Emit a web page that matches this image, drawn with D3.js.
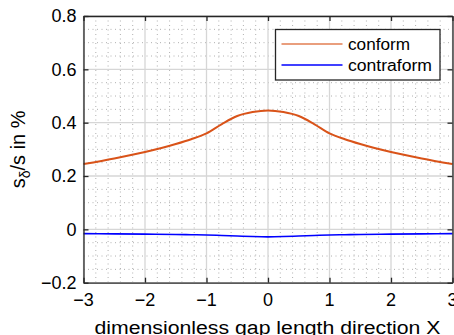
<!DOCTYPE html>
<html><head><meta charset="utf-8">
<script src="https://cdn.jsdelivr.net/npm/d3@7"></script>
<style>html,body{margin:0;padding:0;background:#fff;overflow:hidden}text{font-family:"Liberation Sans",Arial,sans-serif;fill:#000}</style>
</head><body><svg id="c" width="454" height="335"></svg>
<script>
const xValues = [-3,-2.5,-2,-1.5,-1.25,-1,-0.75,-0.5,-0.25,0,0.25,0.5,0.75,1,1.25,1.5,2,2.5,3];
const conform = [0.245,0.266,0.29,0.32,0.338,0.36,0.395,0.425,0.44,0.446,0.44,0.425,0.395,0.36,0.338,0.32,0.29,0.266,0.245];
const contraform = [-0.016,-0.017,-0.018,-0.019,-0.02,-0.021,-0.023,-0.025,-0.027,-0.028,-0.027,-0.025,-0.023,-0.021,-0.02,-0.019,-0.018,-0.017,-0.016];
const xTicks = [-3,-2,-1,0,1,2,3];
const yTicks = [-0.2,0,0.2,0.4,0.6,0.8];
const seriesNames = ["conform","contraform"];
const seriesColors = ["#D95319","#0000FF"];

const svg = d3.select("#c");
const L=83.5,R=452.5,T=16,B=282.7;
const x = d3.scaleLinear().domain([-3,3]).range([L,R]);
const y = d3.scaleLinear().domain([-0.2,0.8]).range([B,T]);
const axisCol="#262626";

// minor grid
const g = svg.append("g");
const xMinor = d3.range(-3,3.0001,0.2).filter(v=>Math.abs(v-Math.round(v))>1e-6);
const yMinor = d3.range(-0.2,0.8001,0.05).filter(v=>Math.abs(v*5-Math.round(v*5))>1e-6);
g.selectAll(".xm").data(xMinor).enter().append("line").attr("x1",d=>x(d)).attr("x2",d=>x(d)).attr("y1",T).attr("y2",B)
 .attr("stroke","#b0b0b0").attr("stroke-width",1).attr("stroke-dasharray","1,3.5");
g.selectAll(".ym").data(yMinor).enter().append("line").attr("y1",d=>y(d)).attr("y2",d=>y(d)).attr("x1",L).attr("x2",R)
 .attr("stroke","#b0b0b0").attr("stroke-width",1).attr("stroke-dasharray","1,3.5");
// major grid
g.selectAll(".xg").data(xTicks).enter().append("line").attr("x1",d=>x(d)).attr("x2",d=>x(d)).attr("y1",T).attr("y2",B)
 .attr("stroke","#d6d6d6").attr("stroke-width",1.3);
g.selectAll(".yg").data(yTicks).enter().append("line").attr("y1",d=>y(d)).attr("y2",d=>y(d)).attr("x1",L).attr("x2",R)
 .attr("stroke","#d6d6d6").attr("stroke-width",1.3);

// lines
const pts = (vals)=>xValues.map((v,i)=>[v,vals[i]]);
const line = d3.line().x(d=>x(d[0])).y(d=>y(d[1])).curve(d3.curveMonotoneX);
[conform,contraform].forEach((s,i)=>{
  svg.append("path").attr("d",line(pts(s))).attr("fill","none").attr("stroke",seriesColors[i]).attr("stroke-width",i==0?2:1.6);
});

// axes (ticks only; labels drawn below)
const ax = svg.append("g");
ax.append("g").attr("transform",`translate(0,${B})`).call(d3.axisBottom(x).tickValues(xTicks).tickSizeInner(-5).tickSizeOuter(0).tickFormat(""));
ax.append("g").attr("transform",`translate(0,${T})`).call(d3.axisTop(x).tickValues(xTicks).tickSizeInner(-5).tickSizeOuter(0).tickFormat(""));
ax.append("g").attr("transform",`translate(${L},0)`).call(d3.axisLeft(y).tickValues(yTicks).tickSizeInner(-5).tickSizeOuter(0).tickFormat(""));
ax.append("g").attr("transform",`translate(${R},0)`).call(d3.axisRight(y).tickValues(yTicks).tickSizeInner(-5).tickSizeOuter(0).tickFormat(""));
ax.selectAll(".domain").attr("stroke",axisCol).attr("stroke-width",1.3);
ax.selectAll(".tick line").attr("stroke",axisCol).attr("stroke-width",1.3);

const fmt = d=>d3.format("")(d).replace("-","\u2212");
const tl = svg.append("g").attr("font-size",18);
tl.selectAll(".xl").data(xTicks).enter().append("text").attr("x",d=>x(d)).attr("y",306).attr("text-anchor","middle").text(fmt);
tl.selectAll(".yl").data(yTicks).enter().append("text").attr("x",L-7).attr("y",d=>y(d)+6.3).attr("text-anchor","end").text(fmt);

// labels
svg.append("text").attr("x",(L+R)/2-0.5).attr("y",333.5).attr("text-anchor","middle").attr("font-size",18)
  .text("dimensionless gap length direction X").attr("textLength",346).attr("lengthAdjust","spacingAndGlyphs");
const yl = svg.append("text").attr("transform",`translate(25,${(T+B)/2}) rotate(-90)`).attr("text-anchor","middle").attr("font-size",20);
yl.append("tspan").text("s");
yl.append("tspan").attr("font-size",14).attr("dy",5).text("\u03B4");
yl.append("tspan").attr("dy",-5).text("/s in %");

// legend
const lg = svg.append("g");
lg.append("rect").attr("x",275.5).attr("y",29.5).attr("width",164.5).attr("height",50.5).attr("fill","#fff").attr("stroke","#262626").attr("stroke-width",1.3);
const legW=[62,84];
seriesNames.forEach((n,i)=>{
  const yy = 44+i*21;
  lg.append("line").attr("x1",281.5).attr("x2",342.5).attr("y1",yy).attr("y2",yy).attr("stroke",seriesColors[i]).attr("stroke-width",1.6).attr("opacity",i==0?0.75:1);
  lg.append("text").attr("x",348).attr("y",yy+5.5).attr("font-size",16).text(n).attr("textLength",legW[i]).attr("lengthAdjust","spacingAndGlyphs");
});
</script></body></html>
